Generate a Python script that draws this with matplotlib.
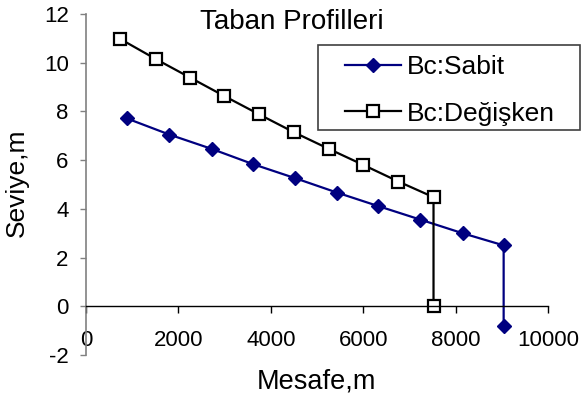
import matplotlib.pyplot as plt
from matplotlib.patches import Rectangle

plt.rcParams['font.family'] = ['Liberation Sans', 'DejaVu Sans']
plt.rcParams['axes.unicode_minus'] = False

# Bed profiles: constant vs variable boundary condition
x_sabit = [888, 1804, 2723, 3624, 4527, 5430, 6331, 7234, 8150, 9040, 9040]
y_sabit = [7.71, 7.05, 6.46, 5.83, 5.26, 4.67, 4.11, 3.56, 3.00, 2.50, -0.80]

x_degisken = [736, 1510, 2252, 2995, 3747, 4505, 5270, 6006, 6764, 7522, 7522]
y_degisken = [10.98, 10.15, 9.39, 8.63, 7.88, 7.14, 6.45, 5.80, 5.12, 4.48, 0.0]

x_ticks = [0, 2000, 4000, 6000, 8000, 10000]
y_ticks = [-2, 0, 2, 4, 6, 8, 10, 12]

W, H = 581, 398
fig = plt.figure(figsize=(W / 100, H / 100), dpi=100)
ax = fig.add_axes([86 / W, (H - 355) / H, 462 / W, 341 / H])

l1, = ax.plot(x_sabit, y_sabit, color='#000080', lw=1.6, marker='D', ms=7,
              mfc='#000080', mec='#000080', label='Bc:Sabit')
l2, = ax.plot(x_degisken, y_degisken, color='black', lw=1.6, marker='s', ms=8,
              mfc='white', mec='black', mew=1.6, label='Bc:Değişken')

ax.set_xlim(0, 10000)
ax.set_ylim(-2, 12)
ax.set_xticks(x_ticks)
ax.set_yticks(y_ticks)

# Excel-like axes: grey value axis, category axis crossing at zero
for s in ['top', 'right']:
    ax.spines[s].set_visible(False)
ax.spines['left'].set_color('#808080')
ax.spines['left'].set_linewidth(1.2)
ax.spines['bottom'].set_position(('data', 0))
ax.spines['bottom'].set_color('black')
ax.spines['bottom'].set_linewidth(1.0)
ax.tick_params(axis='y', direction='out', length=4.5, width=1, color='#808080',
               labelsize=16, pad=8)
ax.tick_params(axis='x', direction='out', length=5, width=1, color='black',
               labelsize=16, pad=12)

fig.text(292 / W, 1 - 22 / H, 'Taban Profilleri', ha='center', va='center', fontsize=20)
fig.text(17 / W, 1 - 183 / H, 'Seviye,m', ha='center', va='center', rotation=90, fontsize=19)
fig.text(316 / W, 1 - 381 / H, 'Mesafe,m', ha='center', va='center', fontsize=19.5)

# legend frame drawn separately so padding can be set freely
frame = Rectangle((318 / W, 1 - 130 / H), 262 / W, 85 / H, transform=fig.transFigure,
                  fill=True, facecolor='white', edgecolor='#404040', lw=1.2, zorder=5)
fig.add_artist(frame)
leg = fig.legend(handles=[l1, l2], loc='upper left', bbox_to_anchor=(340 / W, 1 - 50 / H),
                 frameon=False, fontsize=19, handlelength=2.1, handletextpad=0.25,
                 labelspacing=0.85, borderpad=0.2, borderaxespad=0)
leg.set_zorder(6)

fig.savefig('out.png', dpi=100)
